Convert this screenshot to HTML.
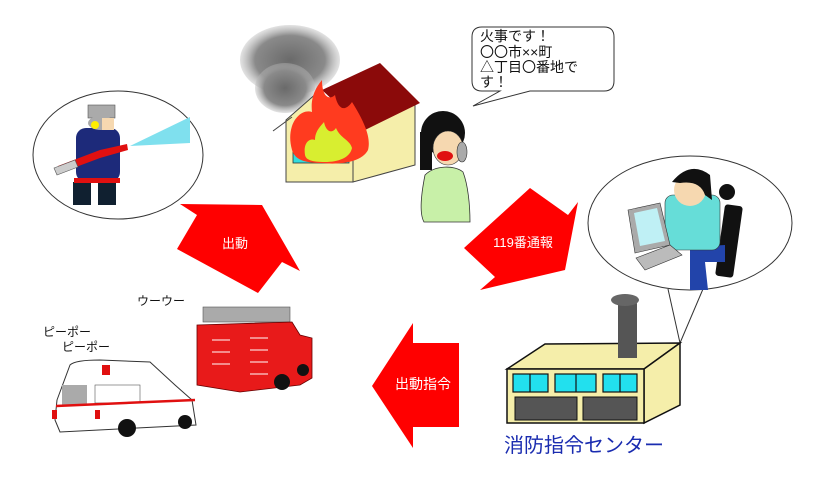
<!DOCTYPE html>
<html><head><meta charset="utf-8"><style>
html,body{margin:0;padding:0;background:#fff;width:819px;height:493px;overflow:hidden}
svg{display:block}
text{font-family:"Liberation Sans","Noto Sans CJK JP",sans-serif}
</style></head><body>
<svg width="819" height="493" viewBox="0 0 819 493" xmlns="http://www.w3.org/2000/svg">
<defs>
<radialGradient id="sm" cx="50%" cy="50%" r="50%"><stop offset="0" stop-color="#6a6a6a"/><stop offset="0.7" stop-color="#8a8a8a"/><stop offset="1" stop-color="#b8b8b8" stop-opacity="0.4"/></radialGradient>
</defs>
<!-- smoke -->
<ellipse cx="290" cy="60" rx="50" ry="35" fill="url(#sm)"/>
<ellipse cx="285" cy="88" rx="30" ry="25" fill="url(#sm)"/>
<!-- house -->
<polygon points="353,120 415,100 415,165 353,182" fill="#f5eeaa" stroke="#444" stroke-width="1"/>
<polygon points="286,120 318,92 353,120 353,182 286,182" fill="#f5eeaa" stroke="#444" stroke-width="1"/>
<rect x="293" y="147" width="56" height="16" fill="#33dddd" stroke="#333" stroke-width="0.8"/>
<polygon points="322,90 380,63 420,103 365,130" fill="#8b0a0a"/>
<line x1="273" y1="131" x2="292" y2="117" stroke="#444"/>
<!-- flames -->
<path d="M292,150 C285,125 300,108 312,112 C310,95 318,85 322,80 C322,98 330,100 335,95 C338,110 345,112 352,102 C360,115 372,135 368,150 C362,162 340,165 322,163 C305,163 295,160 292,150Z" fill="#ff3b1f"/>
<path d="M305,155 C303,142 310,138 315,140 C315,130 322,125 324,122 C326,132 332,134 336,128 C340,138 350,140 352,148 C350,158 338,162 325,162 C312,162 306,160 305,155Z" fill="#d8ee30"/>
<!-- woman -->
<path d="M425,175 C420,200 420,215 424,222 L470,222 C470,205 468,185 463,172 C455,165 435,165 425,175Z" fill="#c8f0a8" stroke="#333" stroke-width="0.8"/>
<ellipse cx="443" cy="133" rx="22" ry="22" fill="#111"/>
<rect x="420" y="132" width="12" height="38" fill="#111"/>
<ellipse cx="448" cy="148" rx="15" ry="17" fill="#f6d8b0" stroke="#333" stroke-width="0.6"/>
<ellipse cx="445" cy="156" rx="8" ry="5" fill="#e01010"/>
<ellipse cx="462" cy="152" rx="5" ry="10" fill="#aaa" stroke="#333" stroke-width="0.6"/>
<!-- speech bubble -->
<path d="M482,27 L604,27 Q614,27 614,37 L614,81 Q614,91 604,91 L530,91 L473,106 L500,91 L482,91 Q472,91 472,81 L472,37 Q472,27 482,27Z" fill="#fff" stroke="#333" stroke-width="1"/>
<g font-size="14" fill="#111">
<text x="480" y="41">火事です！</text>
<text x="480" y="57">〇〇市××町</text>
<text x="480" y="72">△丁目〇番地で</text>
<text x="480" y="87">す！</text>
</g>
<!-- firefighter bubble -->
<ellipse cx="118" cy="155" rx="85" ry="64" fill="#fff" stroke="#333" stroke-width="1"/>
<polygon points="130,146 190,117 190,143" fill="#7fe0ee"/>
<rect x="76" y="128" width="44" height="54" rx="10" fill="#1d2a7a"/>
<rect x="73" y="182" width="18" height="23" fill="#102030"/>
<rect x="98" y="182" width="18" height="23" fill="#102030"/>
<rect x="74" y="178" width="46" height="5" fill="#e01010"/>
<polygon points="60,173 58,166 100,150 127,144 128,150 100,158" fill="#e01010"/>
<polygon points="57,175 54,168 75,160 78,167" fill="#ccc" stroke="#555" stroke-width="0.6"/>
<rect x="88" y="105" width="27" height="13" fill="#aaa" stroke="#555" stroke-width="0.6"/>
<ellipse cx="101" cy="123" rx="13" ry="7" fill="#aaa"/>
<circle cx="95" cy="125" r="4" fill="#ffee00"/>
<rect x="102" y="118" width="12" height="12" fill="#f6d8b0"/>
<!-- dispatcher bubble -->
<ellipse cx="690" cy="223" rx="102" ry="67" fill="#fff" stroke="#333" stroke-width="1"/>
<line x1="668" y1="289" x2="680" y2="343" stroke="#333"/>
<line x1="703" y1="289" x2="680" y2="343" stroke="#333"/>
<rect x="720" y="205" width="18" height="72" rx="3" fill="#111" transform="rotate(8 729 241)"/>
<path d="M690,247 L725,245 L725,262 L705,262 L708,290 L690,290 Z" fill="#2244aa"/>
<rect x="665" y="195" width="55" height="55" rx="8" fill="#66ddd8" stroke="#333" stroke-width="0.6"/>
<circle cx="690" cy="190" r="16" fill="#f6d8b0"/>
<path d="M672,182 Q690,160 710,175 L712,200 L705,195 Q700,180 680,183Z" fill="#111"/>
<circle cx="727" cy="192" r="8" fill="#111"/>
<polygon points="628,210 660,203 670,245 635,253" fill="#aaa" stroke="#333" stroke-width="0.6"/>
<polygon points="634,213 657,208 665,241 640,246" fill="#bff0f5"/>
<polygon points="636,258 670,245 682,255 645,270" fill="#bbb" stroke="#333" stroke-width="0.6"/>
<!-- building -->
<rect x="618" y="300" width="19" height="60" rx="4" fill="#555"/>
<ellipse cx="625" cy="300" rx="14" ry="6" fill="#666"/>
<polygon points="507,369 545,344 680,343 644,369" fill="#f5eeaa" stroke="#111" stroke-width="1.5"/>
<polygon points="644,369 680,343 680,405 644,423" fill="#f5eeaa" stroke="#111" stroke-width="1.5"/>
<rect x="507" y="369" width="137" height="54" fill="#f5eeaa" stroke="#111" stroke-width="1.5"/>
<rect x="618" y="330" width="19" height="28" fill="#555"/>
<g fill="#22e0ee" stroke="#111" stroke-width="1.2">
<rect x="513" y="374" width="35" height="18"/><rect x="555" y="374" width="41" height="18"/><rect x="603" y="374" width="34" height="18"/>
</g>
<g stroke="#111" stroke-width="1.2"><line x1="530" y1="374" x2="530" y2="392"/><line x1="576" y1="374" x2="576" y2="392"/><line x1="620" y1="374" x2="620" y2="392"/></g>
<rect x="515" y="397" width="62" height="23" fill="#555" stroke="#111"/>
<rect x="583" y="397" width="54" height="23" fill="#555" stroke="#111"/>
<text x="504" y="452" font-size="20" fill="#1a2cb0">消防指令センター</text>
<!-- arrows -->
<polygon points="180,204 262,205 300,271 282,262 258,293 177,249 197,215" fill="#ff0000"/>
<text x="235" y="248" font-size="13" fill="#fff" text-anchor="middle">出動</text>
<polygon points="530,188 568,215 578,202 565,270 480,290 495,277 464,248" fill="#ff0000"/>
<text x="523" y="247" font-size="13" fill="#fff" text-anchor="middle">119番通報</text>
<polygon points="372,386 413,323 413,343 459,343 459,427 413,427 413,448" fill="#ff0000"/>
<text x="423" y="389" font-size="14" fill="#fff" text-anchor="middle">出動指令</text>
<!-- vehicle labels -->
<g font-size="12" fill="#111">
<text x="137" y="305">ウーウー</text>
<text x="43" y="336">ピーポー</text>
<text x="62" y="351">ピーポー</text>
</g>
<!-- fire truck -->
<rect x="203" y="307" width="87" height="15" fill="#aaa" stroke="#555" stroke-width="0.6"/>
<polygon points="197,325 292,322 300,335 312,338 312,378 300,385 240,392 197,385" fill="#e81a1a" stroke="#600" stroke-width="0.8"/>
<g stroke="#fff" stroke-width="1"><line x1="212" y1="340" x2="230" y2="340"/><line x1="212" y1="352" x2="230" y2="352"/><line x1="212" y1="364" x2="230" y2="364"/><line x1="250" y1="338" x2="268" y2="338"/><line x1="250" y1="350" x2="268" y2="350"/><line x1="250" y1="362" x2="268" y2="362"/><line x1="250" y1="374" x2="268" y2="374"/></g>
<circle cx="282" cy="382" r="8" fill="#111"/>
<circle cx="303" cy="370" r="6" fill="#111"/>
<!-- ambulance -->
<path d="M57,400 L70,365 Q75,360 100,360 L150,362 L175,385 L192,400 L196,425 L60,432 L55,420 Z" fill="#fff" stroke="#333" stroke-width="1"/>
<rect x="62" y="385" width="25" height="20" fill="#aaa"/>
<rect x="95" y="385" width="45" height="18" fill="#fff" stroke="#555" stroke-width="0.6"/>
<line x1="56" y1="406" x2="195" y2="400" stroke="#e01010" stroke-width="2.5"/>
<rect x="102" y="365" width="8" height="10" fill="#e01010"/>
<circle cx="127" cy="428" r="9" fill="#111"/>
<circle cx="185" cy="422" r="7" fill="#111"/>
<rect x="52" y="410" width="5" height="9" fill="#e01010"/>
<rect x="95" y="410" width="5" height="9" fill="#e01010"/>
</svg>
</body></html>
